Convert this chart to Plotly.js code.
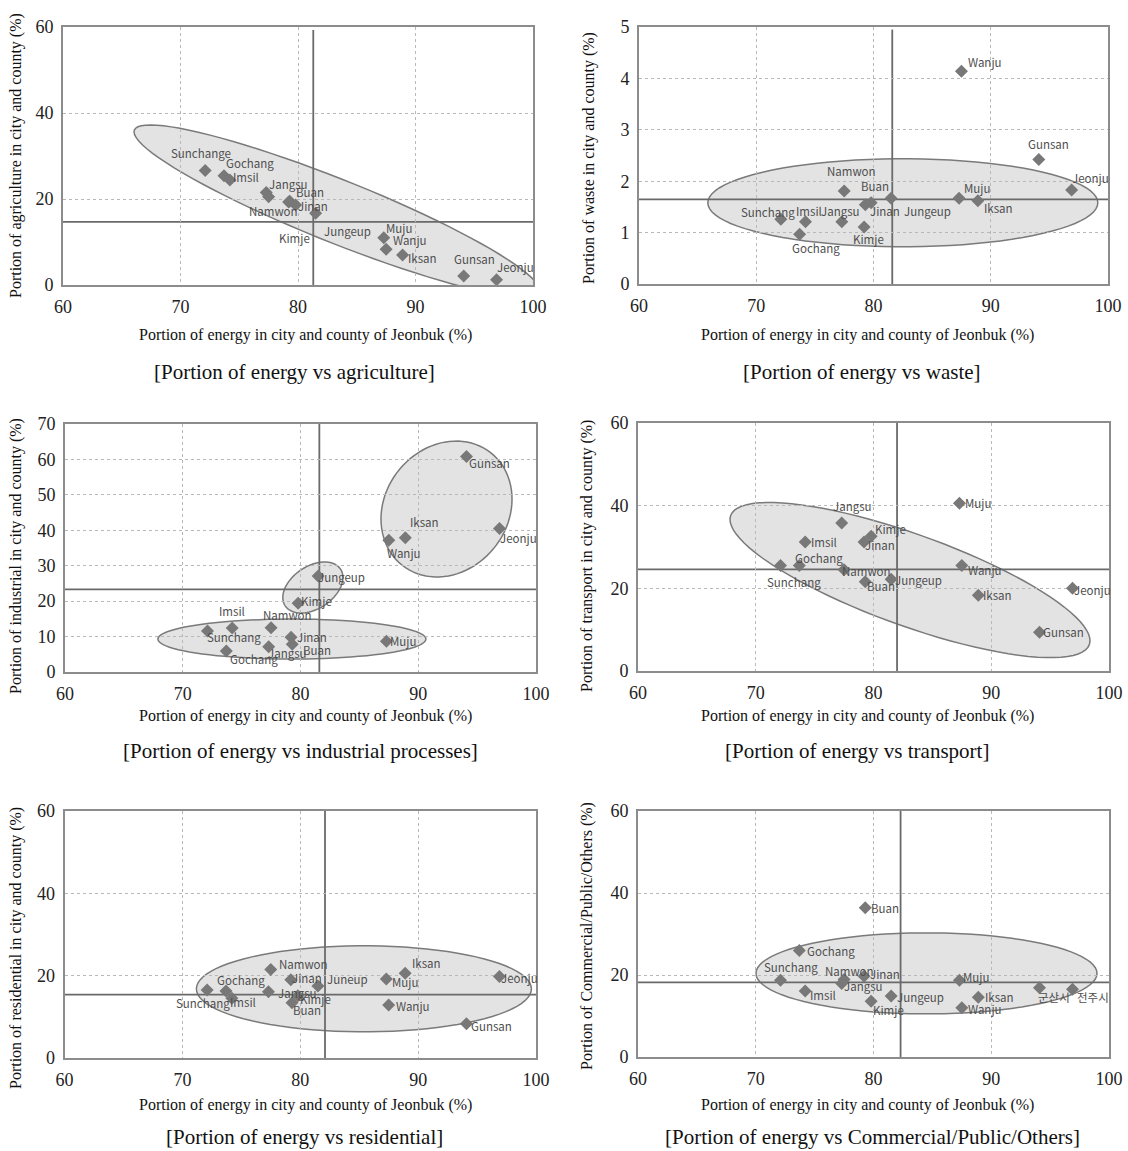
<!DOCTYPE html>
<html><head><meta charset="utf-8">
<script src="https://cdn.plot.ly/plotly-3.0.1.min.js"></script>
<style>html,body{margin:0;padding:0;background:#fff}</style>
</head><body><div id="chart" style="width:1128px;height:1151px"></div>
<script>
// ---------------- DATA ----------------
const cities = ['Sunchang','Gochang','Imsil','Jangsu','Namwon','Jinan','Buan','Kimje','Jungeup','Muju','Wanju','Iksan','Gunsan','Jeonju'];
const energy      = [72.1, 73.7, 74.2, 77.3, 77.5, 79.2, 79.3, 79.8, 81.5, 87.3, 87.5, 88.9, 94.1, 96.9];
const agriculture = [26.6, 25.4, 24.4, 21.5, 20.5, 19.3, 19.5, 18.6, 16.7, 11.0, 8.3, 7.0, 2.1, 1.2];
const waste       = [1.26, 0.97, 1.21, 1.21, 1.81, 1.11, 1.54, 1.58, 1.67, 1.67, 4.14, 1.62, 2.42, 1.83];
const industrial  = [11.6, 5.9, 12.4, 7.1, 12.5, 9.8, 7.8, 19.4, 27.1, 8.7, 37.2, 37.9, 60.8, 40.5];
const transport   = [25.5, 25.5, 31.2, 35.8, 24.5, 31.2, 21.6, 32.6, 22.2, 40.6, 25.5, 18.3, 9.4, 20.0];
const residential = [16.5, 16.3, 14.5, 16.1, 21.5, 19.0, 13.4, 15.1, 17.5, 19.2, 12.9, 20.6, 8.3, 19.8];
const commercial  = [18.7, 26.0, 16.1, 17.9, 18.9, 19.7, 36.4, 13.6, 14.9, 18.7, 12.0, 14.6, 16.9, 16.5];

const labelsAgri  = ['Sunchange','Gochang','Imsil','Jangsu','Namwon','Jinan','Buan','Kimje','Jungeup','Muju','Wanju','Iksan','Gunsan','Jeonju'];
const labelsWaste = cities;
const labelsInd   = cities;
const labelsTrans = cities;
const labelsRes   = ['Sunchang','Gochang','Imsil','Jangsu','Namwon','Jinan','Buan','Kimje','Juneup','Muju','Wanju','Iksan','Gunsan','Jeonju'];
const labelsCom   = ['Sunchang','Gochang','Imsil','Jangsu','Namwon','Jinan','Buan','Kimje','Jungeup','Muju','Wanju','Iksan','군산시','전주시'];

// mean lines (energy mean, sector mean) for each panel
const meanEnergy = [81.3, 81.6, 81.6, 82.0, 82.1, 82.3];
const meanSector = [14.7, 1.645, 23.3, 24.6, 15.4, 18.2];

const xTitle = 'Portion of energy in city and county of Jeonbuk (%)';
const yTitles = ['Portion of agriculture in city and county (%)','Portion of waste in city and county (%)',
  'Portion of industrial in city and county (%)','Portion of transport in city and county (%)',
  'Portion of residential in city and county (%)','Portion of Commercial/Public/Others (%)'];
const panelTitles = ['[Portion of energy vs agriculture]','[Portion of energy vs waste]',
  '[Portion of energy vs industrial processes]','[Portion of energy vs transport]',
  '[Portion of energy vs residential]','[Portion of energy vs Commercial/Public/Others]'];

// ---------------- STYLE / LAYOUT ----------------
const W = 1128, H = 1151;
const serif = 'Liberation Serif, Times New Roman, serif';
const labFont = {family:'Noto Sans CJK KR, Noto Sans, sans-serif', size:11.5, color:'#4e4e4e'};

const panels = [
 {vals:agriculture, labels:labelsAgri, ymax:60, dtick:20, box:[63,27,533,285], vSpan:[0,59.3],
  ytx:16, yty:156, xty:335, xtx:305, ptx:294, pty:372,
  ell:[[83.3,17.2,218,31.5,21.8]],
  off:[[-4,-18],[26,-13],[16,-3],[22,-9],[5,14],[24,4],[20,-9],[-1,33],[32,18],[15,-10],[24,-9],[20,3],[11,-17],[19,-13]]},
 {vals:waste, labels:labelsWaste, ymax:5, dtick:1, box:[639,27,1108,284], vSpan:[0,4.95],
  ytx:589, yty:158, xty:335, xtx:868, ptx:862, pty:372,
  ell:[[82.5,1.58,195,44,0]],
  off:[[-13,-7],[16,14],[3,-11],[-1,-11],[7,-20],[21,-16],[10,-19],[-3,36],[36,13],[18,-10],[24,-9],[21,7],[10,-16],[19,-12]]},
 {vals:industrial, labels:labelsInd, ymax:70, dtick:10, box:[65,424,536,672], vSpan:[0,70],
  ytx:16, yty:556, xty:716, xtx:305, ptx:300, pty:751,
  ell:[[92.4,46.0,71.6,61.5,-52],[81.05,23.85,33.2,21.2,-33.5],[79.27,9.3,134,20,0]],
  off:[[27,6],[28,8],[0,-17],[19,6],[16,-13],[21,0],[25,6],[18,-2],[23,1],[17,0],[15,13],[19,-16],[23,6],[19,9]]},
 {vals:transport, labels:labelsTrans, ymax:60, dtick:20, box:[638,423,1109,671], vSpan:[0,60],
  ytx:587, yty:556, xty:716, xtx:868, ptx:857, pty:751,
  ell:[[83.1,22.0,190.6,45.7,19.8]],
  off:[[14,16],[20,-8],[19,0],[11,-17],[22,1],[16,3],[16,4],[19,-7],[27,1],[19,0],[23,4],[19,0],[24,0],[20,2]]},
 {vals:residential, labels:labelsRes, ymax:60, dtick:20, box:[64.5,811,536,1058], vSpan:[0,60],
  ytx:16, yty:948, xty:1105, xtx:305, ptx:304, pty:1137,
  ell:[[85.4,16.8,167.5,43,0]],
  off:[[-4,13],[15,-11],[11,4],[29,1],[33,-5],[16,-2],[15,7],[18,3],[30,-7],[19,3],[24,1],[21,-10],[25,2],[20,2]]},
 {vals:commercial, labels:labelsCom, ymax:60, dtick:20, box:[638,811,1109,1057], vSpan:[0,60],
  ytx:587, yty:936, xty:1105, xtx:868, ptx:872, pty:1137,
  ell:[[84.5,20.4,170.5,40.5,0]],
  off:[[11,-13],[32,1],[18,4],[22,2],[5,-9],[21,-2],[20,0],[17,9],[29,1],[17,-3],[23,1],[21,0],[14,9],[20,8]]}
];

const traces = [], shapes = [], annotations = [];
const layout = {width:W, height:H, margin:{l:0,r:0,t:0,b:0}, paper_bgcolor:'#fff', plot_bgcolor:'#fff',
  showlegend:false, font:{family:serif, color:'#222'}};

function ellipsePath(e, p, xmin, xmax){
  const [cx, cy, a, b, deg] = e;
  const ppx = (p.box[2]-p.box[0])/(xmax-xmin);
  const ppy = (p.box[3]-p.box[1])/p.ymax;
  const th = deg*Math.PI/180, N = 90;
  let d = '';
  for(let i=0;i<=N;i++){
    const t = 2*Math.PI*i/N;
    const ex = a*Math.cos(t)*Math.cos(th) - b*Math.sin(t)*Math.sin(th);
    const ey = a*Math.cos(t)*Math.sin(th) + b*Math.sin(t)*Math.cos(th); // screen, down positive
    const x = cx + ex/ppx, y = cy - ey/ppy;
    d += (i===0?'M':'L') + x.toFixed(4) + ',' + y.toFixed(4);
  }
  return d + 'Z';
}

panels.forEach((p, i) => {
  const n = i+1, xa = 'x'+(n===1?'':n), ya = 'y'+(n===1?'':n);
  const xk = 'xaxis'+(n===1?'':n), yk = 'yaxis'+(n===1?'':n);
  const common = {showgrid:true, gridcolor:'#b8b8b8', griddash:'dot', gridwidth:1, zeroline:false,
    showline:true, mirror:true, linecolor:'#8c8c8c', linewidth:2, ticks:'', ticklabelstandoff:4,
    tickfont:{family:serif, size:18, color:'#222'}, fixedrange:true};
  layout[xk] = Object.assign({}, common, {domain:[p.box[0]/W, p.box[2]/W], anchor:ya, range:[60,100], tick0:60, dtick:10});
  layout[yk] = Object.assign({}, common, {domain:[1-p.box[3]/H, 1-p.box[1]/H], anchor:xa, range:[0,p.ymax], tick0:0, dtick:p.dtick});

  p.ell.forEach(e => shapes.push({type:'path', path:ellipsePath(e,p,60,100), xref:xa, yref:ya,
    fillcolor:'rgba(185,185,185,0.40)', line:{color:'#7a7a7a', width:1.5}, layer:'below'}));
  shapes.push({type:'line', xref:xa, yref:ya, x0:60, x1:100, y0:meanSector[i], y1:meanSector[i],
    line:{color:'#6a6a6a', width:1.8}, layer:'below'});
  shapes.push({type:'line', xref:xa, yref:ya, x0:meanEnergy[i], x1:meanEnergy[i], y0:p.vSpan[0], y1:p.vSpan[1],
    line:{color:'#6a6a6a', width:1.8}, layer:'below'});

  traces.push({type:'scatter', mode:'markers', x:energy, y:p.vals, xaxis:xa, yaxis:ya, hoverinfo:'skip',
    cliponaxis:false, marker:{symbol:'diamond', size:10, color:'#787878'}});

  p.labels.forEach((lab, k) => {
    annotations.push({xref:xa, yref:ya, x:energy[k], y:p.vals[k], text:lab, showarrow:false,
      xanchor:'center', yanchor:'middle', xshift:p.off[k][0], yshift:-p.off[k][1], font:labFont});
  });

  annotations.push({xref:'paper', yref:'paper', x:p.xtx/W, y:1-p.xty/H, text:xTitle, showarrow:false,
    xanchor:'center', yanchor:'middle', font:{family:serif, size:16, color:'#111'}});
  annotations.push({xref:'paper', yref:'paper', x:p.ytx/W, y:1-p.yty/H, text:yTitles[i], showarrow:false,
    textangle:-90, xanchor:'center', yanchor:'middle', font:{family:serif, size:16, color:'#111'}});
  annotations.push({xref:'paper', yref:'paper', x:p.ptx/W, y:1-p.pty/H, text:panelTitles[i], showarrow:false,
    xanchor:'center', yanchor:'middle', font:{family:serif, size:21, color:'#111'}});
});

layout.shapes = shapes;
layout.annotations = annotations;
Plotly.newPlot('chart', traces, layout, {staticPlot:true, displayModeBar:false});
</script>
</body></html>
